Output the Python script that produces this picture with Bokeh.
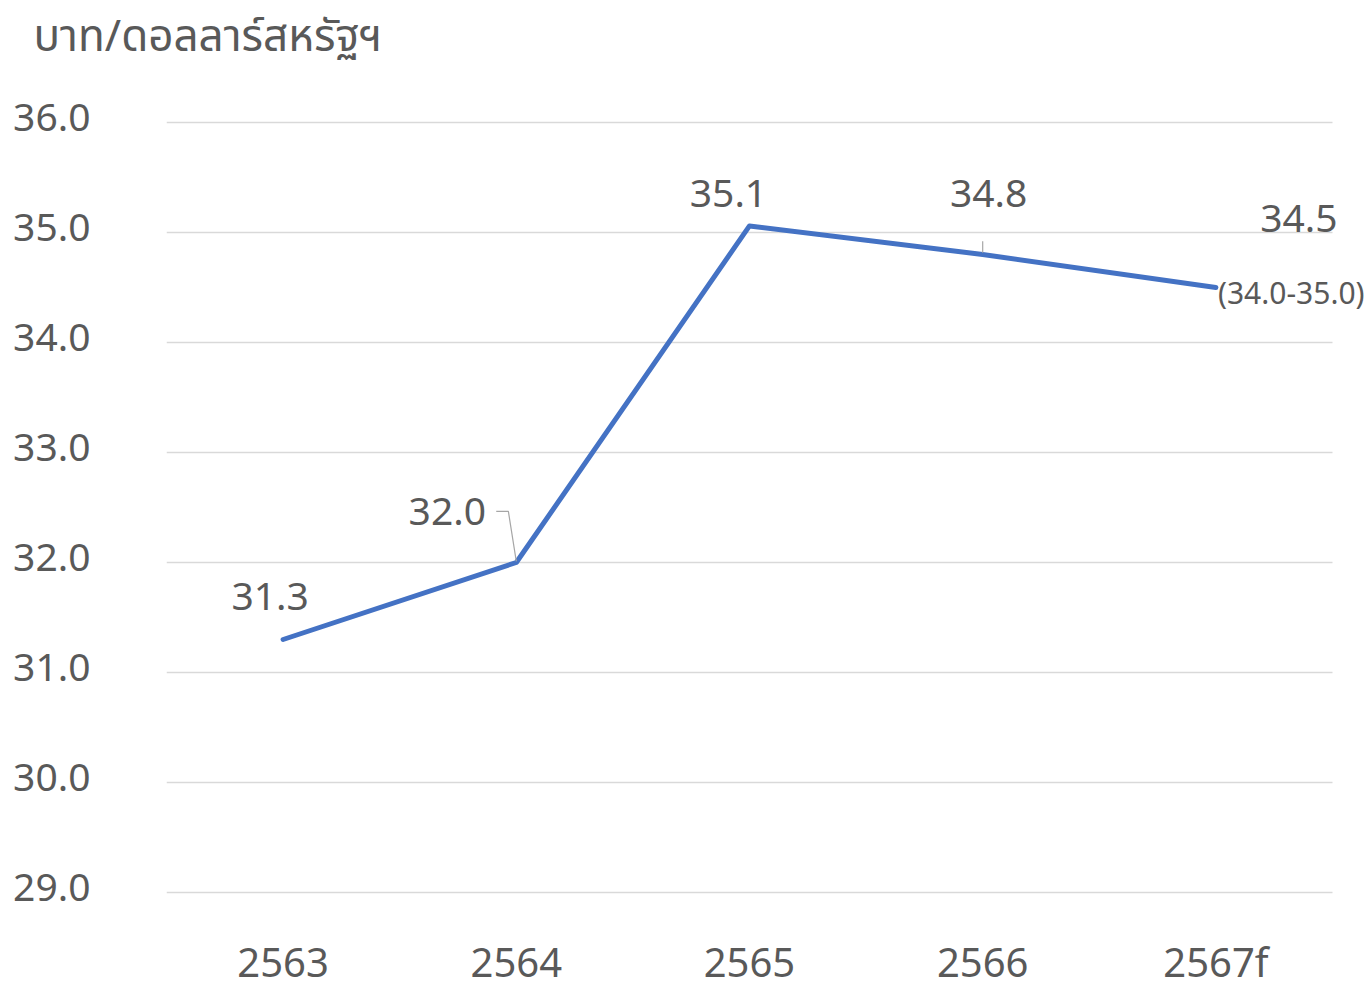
from bokeh.plotting import figure
from bokeh.models import Range1d, FixedTicker, ColumnDataSource, LabelSet, Label, LinearAxis
from bokeh.core.properties import value
from bokeh.embed import file_html
from bokeh.resources import INLINE

# ---- data ----
years = ["2563", "2564", "2565", "2566", "2567f"]
rates = [31.3, 32.0, 35.06, 34.8, 34.5]
rate_labels = ["31.3", "32.0", "35.1", "34.8", "34.5"]
forecast_range = "(34.0-35.0)"
y_ticks = [29, 30, 31, 32, 33, 34, 35, 36]
unit_title = "บาท/ดอลลาร์สหรัฐฯ"

# ---- styles / layout ----
THAI_FONT = "'Noto Sans', 'Noto Sans Thai', 'Leelawadee UI', sans-serif"
FONT = "Noto Sans"
TXT = "#595959"
LINE = "#4472c4"
GRID = "#d9d9d9"
LEADER = "#a6a6a6"
label_dx = [-13, -69, -21, 6, 83]
label_dy = [43, 51, 32, 61, 69]   # upward, screen px
W, H = 1370, 991
LEFT, TOP, BOTTOM = 166, 111, 88
TITLE_CX = 207.5                  # horizontal centre of the unit title, px

xs = list(range(len(years)))
n = len(years)

# frame spans from the first category band to the right edge of the page
p = figure(width=W, height=H, output_backend="svg", toolbar_location=None,
           x_range=Range1d(-0.5, n - 0.5 + 0.163),
           y_range=Range1d(y_ticks[0] - 0.1, y_ticks[-1] + 0.1),
           x_axis_location=None, y_axis_location=None,
           min_border_left=LEFT, min_border_right=0, min_border_top=TOP, min_border_bottom=BOTTOM)
p.outline_line_color = None
p.background_fill_color = "white"
p.border_fill_color = "white"

# unit title, drawn as the single label of an axis above the plot
p.extra_x_ranges = {"ttl": Range1d(-(TITLE_CX - LEFT), (W - LEFT) - (TITLE_CX - LEFT))}
tax = LinearAxis(x_range_name="ttl", ticker=FixedTicker(ticks=[0]),
                 major_label_overrides={0: unit_title})
p.add_layout(tax, "above")

# category axis below
xax = LinearAxis(ticker=FixedTicker(ticks=xs),
                 major_label_overrides={i: y for i, y in enumerate(years)})
p.add_layout(xax, "below")

# y axis (labels sit slightly above their grid lines, as in the original)
p.extra_y_ranges = {"lab": Range1d(y_ticks[0] - 0.1 - 0.045, y_ticks[-1] + 0.1 - 0.045)}
yax = LinearAxis(y_range_name="lab", ticker=FixedTicker(ticks=y_ticks),
                 major_label_overrides={t: f"{t:.1f}" for t in y_ticks})
p.add_layout(yax, "left")

for ax in (xax, yax, tax):
    ax.axis_line_color = None
    ax.major_tick_line_color = None
    ax.minor_tick_line_color = None
    ax.major_label_text_font = FONT
    ax.major_label_text_color = TXT
tax.major_label_text_font = THAI_FONT
tax.major_label_text_font_size = "44px"
tax.major_label_standoff = 42
yax.major_label_text_font_size = "39px"
yax.major_label_standoff = 70
xax.major_label_text_font_size = "40px"
xax.major_label_standoff = 24

# horizontal grid lines, spanning only the category area
p.xgrid.grid_line_color = None
p.ygrid.grid_line_color = None
p.segment(x0=[-0.5] * len(y_ticks), x1=[n - 0.5] * len(y_ticks), y0=y_ticks, y1=y_ticks,
          line_color=GRID, line_width=1.5)

# main line
src = ColumnDataSource(dict(x=xs, y=rates, lab=rate_labels, dx=label_dx, dy=label_dy))
p.line("x", "y", source=src, line_color=LINE, line_width=5, line_cap="round", line_join="round")

# leader lines (derived from data points)
i1 = 1
p.line([xs[i1] - 0.086, xs[i1] - 0.034, xs[i1]], [rates[i1] + 0.464, rates[i1] + 0.464, rates[i1] + 0.01],
       line_color=LEADER, line_width=1.2)
i3 = 3
p.line([xs[i3], xs[i3]], [rates[i3] + 0.015, rates[i3] + 0.12], line_color=LEADER, line_width=1.2)

# data labels
p.add_layout(LabelSet(x="x", y="y", text="lab", source=src, x_offset="dx", y_offset="dy",
                      text_align="center", text_baseline="middle", text_font=value(FONT),
                      text_font_size=value("39px"), text_color=value(TXT)))

# forecast range note
p.add_layout(Label(x=xs[-1], y=rates[-1], text=forecast_range, x_offset=2, y_offset=-5,
                   text_align="left", text_baseline="middle", text_font=FONT,
                   text_font_size="30px", text_color=TXT))

open("out.html", "w").write(file_html(p, INLINE))
